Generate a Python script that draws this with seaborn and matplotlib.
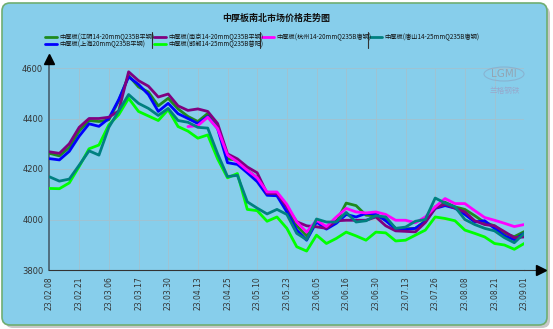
import numpy as np
import pandas as pd
import matplotlib
matplotlib.use("Agg")
import matplotlib.pyplot as plt
import seaborn as sns
from matplotlib.patches import FancyBboxPatch, Ellipse
from matplotlib.transforms import IdentityTransform
from matplotlib.lines import Line2D

# ---------------- data ----------------
tick_labels = ["23.02.08", "23.02.21", "23.03.06", "23.03.17", "23.03.30", "23.04.13",
               "23.04.25", "23.05.10", "23.05.23", "23.06.05", "23.06.16", "23.06.30",
               "23.07.13", "23.07.26", "23.08.08", "23.08.21", "23.09.01"]
tick_pos = list(range(0, 145, 9))          # trading-day index of each label
day_idx = list(range(0, 145, 3))            # sampled trading-day index

jiangyin = [4262, 4252, 4285, 4350, 4392, 4388, 4395, 4470, 4570, 4525, 4505, 4450, 4480,
            4438, 4408, 4388, 4420, 4370, 4240, 4235, 4195, 4165, 4103, 4103, 4050, 3975,
            3935, 3995, 3968, 3990, 4065, 4055, 4017, 4015, 4000, 3965, 3963, 3965, 3995,
            4050, 4068, 4050, 4040, 4015, 3988, 3975, 3945, 3932, 3952]
shanghai = [4241, 4236, 4270, 4330, 4379, 4369, 4400, 4475, 4565, 4535, 4495, 4428, 4460,
            4419, 4400, 4380, 4408, 4360, 4225, 4218, 4185, 4150, 4096, 4094, 4030, 3958,
            3918, 3990, 3962, 3985, 4020, 4010, 4024, 4022, 3995, 3962, 3960, 3965, 3991,
            4044, 4055, 4045, 4020, 3990, 3995, 3965, 3935, 3920, 3945]
nanjing = [4268, 4262, 4300, 4365, 4400, 4400, 4405, 4430, 4585, 4550, 4528, 4485, 4497,
           4450, 4432, 4438, 4428, 4380, 4260, 4240, 4208, 4185, 4103, 4103, 4050, 3991,
           3975, 3971, 3965, 3995, 3997, 3997, 3997, 4010, 3975, 3955, 3953, 3951, 3988,
           4045, 4060, 4045, 4030, 3995, 3980, 3975, 3952, 3928, 3931]
handan = [4123, 4122, 4145, 4210, 4280, 4295, 4375, 4415, 4480, 4428, 4410, 4392, 4435,
          4368, 4350, 4322, 4335, 4240, 4165, 4182, 4040, 4035, 3993, 4010, 3965, 3892,
          3875, 3938, 3905, 3925, 3950, 3935, 3918, 3950, 3947, 3915, 3918, 3938, 3958,
          4010, 4004, 3995, 3958, 3945, 3931, 3905, 3899, 3882, 3905]
hangzhou = [None] * 14 + [4368, 4372, 4405, 4360, 4255, 4228, 4195, 4165, 4109, 4109, 4060,
            3990, 3950, 3997, 3972, 4010, 4044, 4030, 4026, 4030, 4020, 3997, 3997, 3987,
            4010, 4050, 4083, 4063, 4063, 4035, 4008, 3997, 3985, 3972, 3980]
tangshan = [4169, 4152, 4160, 4215, 4272, 4255, 4365, 4430, 4495, 4460, 4440, 4412, 4440,
            4392, 4385, 4365, 4362, 4260, 4170, 4175, 4070, 4045, 4022, 4040, 4020, 3945,
            3920, 4002, 3990, 3990, 4028, 3990, 3995, 4015, 4010, 3965, 3970, 3993, 4000,
            4085, 4065, 4050, 4000, 3980, 3965, 3955, 3928, 3908, 3945]

series = [
    ("中厚板(江阴14-20mmQ235B平钢)", jiangyin, "#1e8a1e"),
    ("中厚板(上海20mmQ235B平钢)", shanghai, "#0000ff"),
    ("中厚板(南京14-20mmQ235B平钢)", nanjing, "#800080"),
    ("中厚板(邯郸14-25mmQ235B普阳)", handan, "#00ff00"),
    ("中厚板(杭州14-20mmQ235B唐钢)", hangzhou, "#ff00ff"),
    ("中厚板(唐山14-25mmQ235B唐钢)", tangshan, "#008080"),
]

# ---------------- style ----------------
sns.set_style("white")
plt.rcParams["font.family"] = ["Noto Sans CJK SC", "DejaVu Sans"]

W, H = 553, 329
fig = plt.figure(figsize=(W / 100, H / 100), dpi=100)
fig.patch.set_facecolor("white")

ident = IdentityTransform()
shadow = FancyBboxPatch((5, 1), 545, 322, boxstyle="round,pad=0,rounding_size=8",
                        fc="#c8c8c8", ec="none", transform=ident, zorder=0)
panel = FancyBboxPatch((2, 4), 545, 322, boxstyle="round,pad=0,rounding_size=8",
                       fc="#87ceeb", ec="#6fae72", lw=1.2, transform=ident, zorder=0)
fig.add_artist(shadow)
fig.add_artist(panel)

x0, x1 = 49.5, 524.2
y_top, y_bot = 68, 270
ax = fig.add_axes([x0 / W, (H - y_bot) / H, (x1 - x0) / W, (y_bot - y_top) / H])
ax.set_facecolor("none")

df = pd.DataFrame({"idx": day_idx})
for name, vals, col in series:
    df[name] = np.array([np.nan if v is None else v for v in vals], dtype=float)
    sns.lineplot(data=df, x="idx", y=name, ax=ax, color=col, lw=2.0, zorder=3,
                 legend=False)

ax.set_xlim(0, 144)
ax.set_ylim(3800, 4600)
ax.set_xticks(tick_pos)
ax.set_xticklabels(tick_labels, rotation=90, fontsize=5.5, color="#333333",
                   family="DejaVu Sans")
ax.set_yticks([3800, 4000, 4200, 4400, 4600])
ax.set_yticklabels(["3800", "4000", "4200", "4400", "4600"], fontsize=6,
                   color="#333333", family="DejaVu Sans")
ax.tick_params(axis="both", length=3, width=0.6, color="#555555", pad=1.5)
ax.set_xlabel("")
ax.set_ylabel("")
ax.grid(True, color="#a3c2cf", lw=0.6)
for s in ["top", "right"]:
    ax.spines[s].set_visible(False)
ax.spines["left"].set_color("#4f6f80")
ax.spines["left"].set_linewidth(1.4)
ax.spines["bottom"].set_color("#333333")
ax.spines["bottom"].set_linewidth(0.8)

# axis arrows
ax.plot([0, 0], [1, 1.04], transform=ax.transAxes, color="#4f6f80", lw=1.4, clip_on=False)
ax.plot([0], [1.045], transform=ax.transAxes, marker="^", ms=7, color="black", clip_on=False)
ax.plot([1, 1.03], [0, 0], transform=ax.transAxes, color="#333333", lw=0.8, clip_on=False)
ax.plot([1.035], [0], transform=ax.transAxes, marker=">", ms=7, color="black", clip_on=False)

# title
fig.text(276 / W, 1 - 18 / H, "中厚板南北市场价格走势图", ha="center", va="center",
         fontsize=6.5, fontweight="bold", color="#111111")

# legend (4 columns, filled column by column)
col_x = [45, 154, 262, 370]
row_y = [37, 44]
slots = [(0, 0), (0, 1), (1, 0), (1, 1), (2, 0), (3, 0)]
for (name, _, col), (ci, ri) in zip(series, slots):
    hx = col_x[ci]
    yy = 1 - row_y[ri] / H
    fig.add_artist(Line2D([hx / W, (hx + 12) / W], [yy, yy], color=col, lw=2.0,
                          transform=fig.transFigure))
    fig.text((hx + 14) / W, yy, name, ha="left", va="center", fontsize=4.5,
             color="#111111")
for sx in [152, 260, 368]:
    fig.add_artist(Line2D([sx / W, sx / W], [1 - 32 / H, 1 - 48 / H], color="#333333",
                          lw=0.8, transform=fig.transFigure))

# watermark
fig.add_artist(Ellipse((504, H - 74), 40, 14, transform=ident, fc="none",
                       ec="#8a9ab8", lw=0.8, alpha=0.5))
fig.text(504 / W, 1 - 74 / H, "LGMI", ha="center", va="center", fontsize=7.5,
         color="#9a8a90", alpha=0.6, family="DejaVu Sans")
fig.text(505 / W, 1 - 91 / H, "兰格钢铁", ha="center", va="center", fontsize=5.5,
         color="#a090b8", alpha=0.6)

fig.savefig("out.png", dpi=100, facecolor="white")
